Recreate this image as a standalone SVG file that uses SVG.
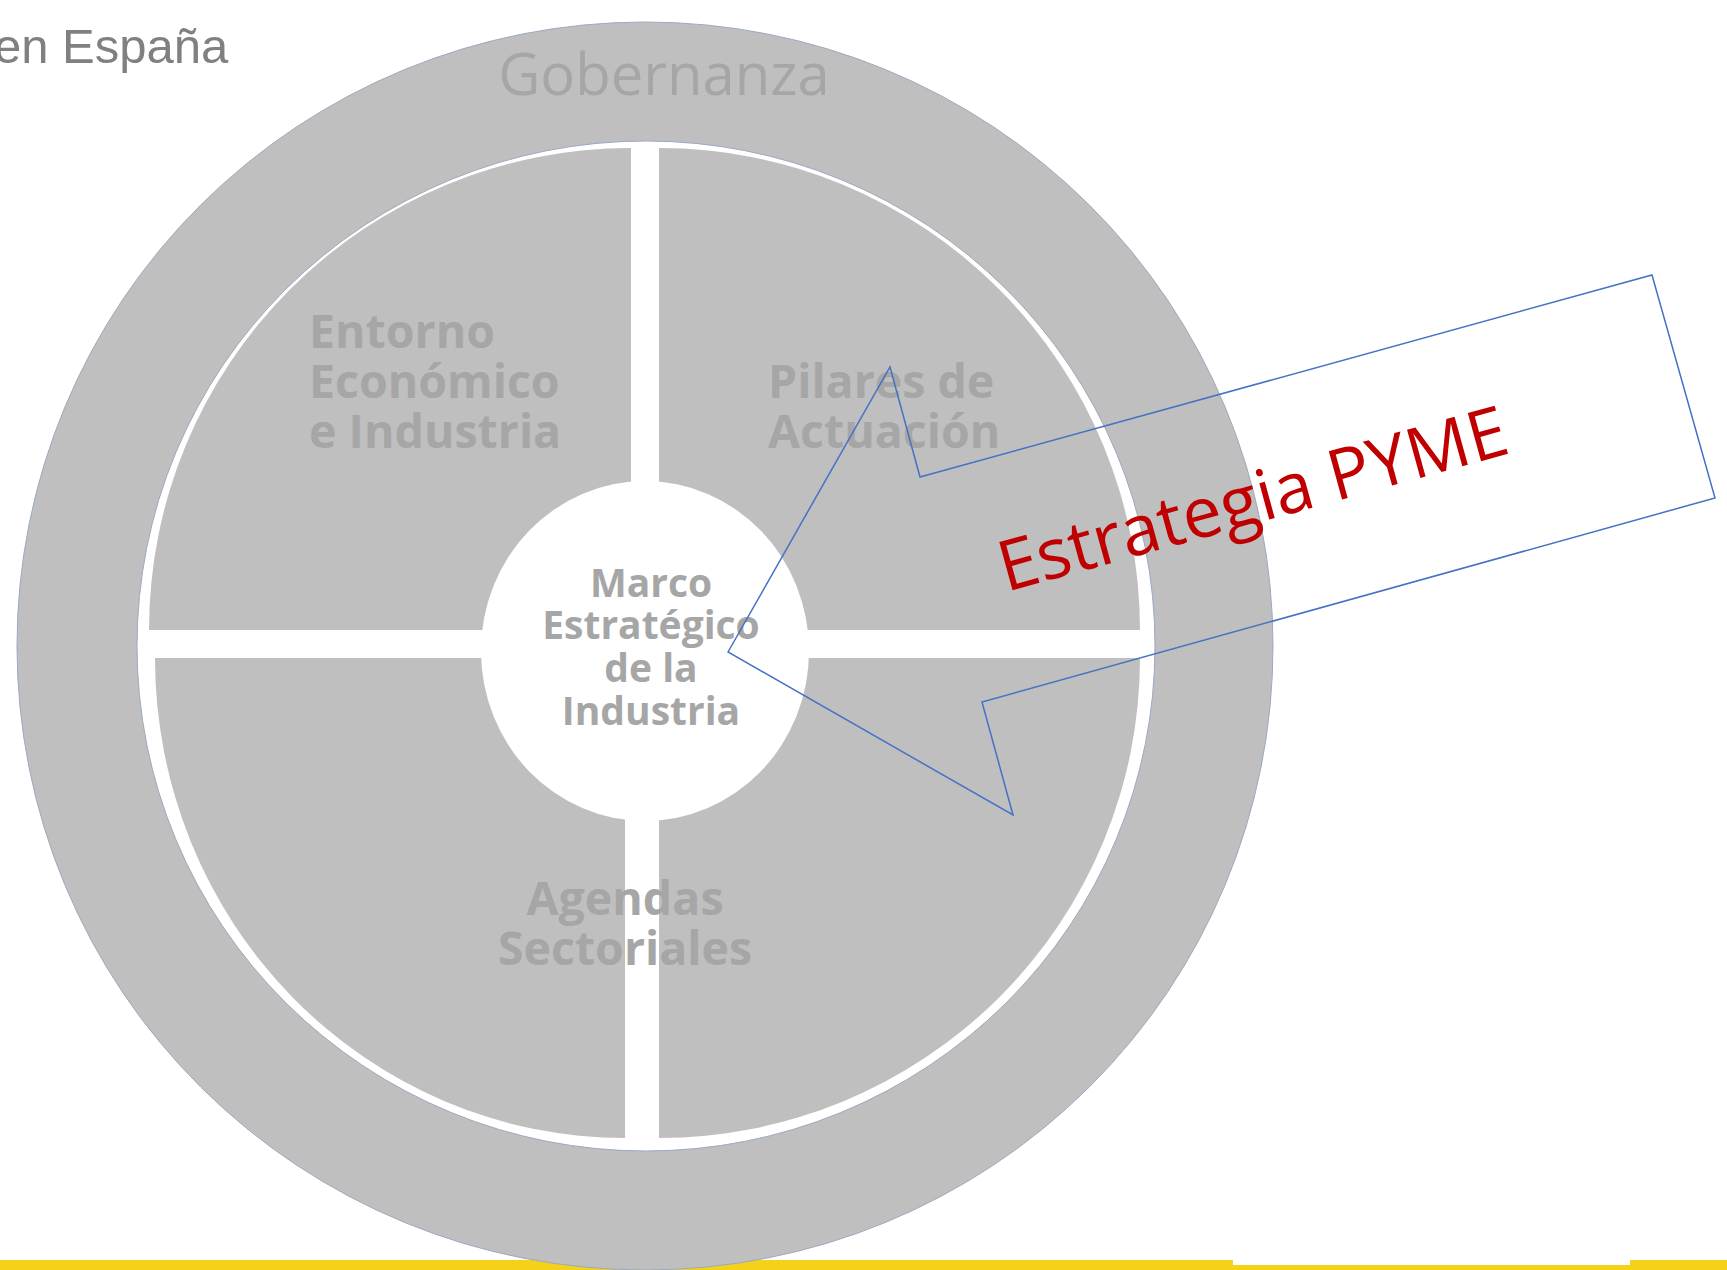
<svg xmlns="http://www.w3.org/2000/svg" width="1727" height="1270" viewBox="0 0 1727 1270">
<style>
.q{fill:#bfbfbf}
.qt{font-family:"Open Sans","Noto Sans",sans-serif;font-weight:700;font-size:46.5px;fill:#a6a6a6}
.ct{font-family:"Open Sans","Noto Sans",sans-serif;font-weight:700;font-size:39px;fill:#a6a6a6;text-anchor:middle}
.edge{stroke:#9aaac0;stroke-width:1}
</style>
<rect width="1727" height="1270" fill="#ffffff"/>
<rect x="0" y="1260" width="1727" height="10" fill="#f5d11a"/>
<rect x="1233" y="1260" width="397" height="5" fill="#ffffff"/>
<text x="-6" y="63" font-family="Liberation Sans, Arial, sans-serif" font-size="49" fill="#808080">en España</text>
<g id="gobernanza">
<ellipse cx="645" cy="646" rx="628" ry="624" fill="#bfbfbf" class="edge"/>
<text x="664" y="95" font-family="Open Sans, Noto Sans, sans-serif" font-size="58" fill="#a6a6a6" text-anchor="middle">Gobernanza</text>
</g>
<ellipse cx="646" cy="646" rx="509" ry="505" fill="#ffffff" class="edge"/>
<g id="entorno">
<path class="q" d="M631 630 L149 630 A482 482 0 0 1 631 148 Z"/>
<text class="qt"><tspan x="309" y="348">Entorno</tspan><tspan x="309" y="398">Económico</tspan><tspan x="309" y="448">e Industria</tspan></text>
</g>
<g id="pilares">
<path class="q" d="M659 630 L659 148 A481 482 0 0 1 1140 630 Z"/>
<text class="qt"><tspan x="768" y="398">Pilares de</tspan><tspan x="768" y="448">Actuación</tspan></text>
</g>
<g id="agendas-bl">
<path class="q" d="M625 658 L625 1138 A470 480 0 0 1 155 658 Z"/>
</g>
<g id="agendas-br">
<path class="q" d="M659 658 L1140 658 A481 480 0 0 1 659 1138 Z"/>
</g>
<text class="qt" text-anchor="middle"><tspan x="625" y="915">Agendas</tspan><tspan x="625" y="965">Sectoriales</tspan></text>
<g id="marco">
<ellipse cx="645" cy="651" rx="164" ry="170" fill="#ffffff"/>
<text class="ct"><tspan x="651" y="597">Marco</tspan><tspan x="651" y="639">Estratégico</tspan><tspan x="651" y="682">de la</tspan><tspan x="651" y="725">Industria</tspan></text>
</g>
<g id="connectors">
<g id="callout">
<polygon points="728,652 890,367 920,477 1652,275 1715,498 982,702 1013,815" fill="none" stroke="#4472c4" stroke-width="1.5" stroke-linejoin="miter"/>
<text transform="translate(1006 592) rotate(-15.4)" font-family="Open Sans, Noto Sans, sans-serif" font-size="70" fill="#c00000">Estrategia PYME</text>
</g>
</g>
</svg>
